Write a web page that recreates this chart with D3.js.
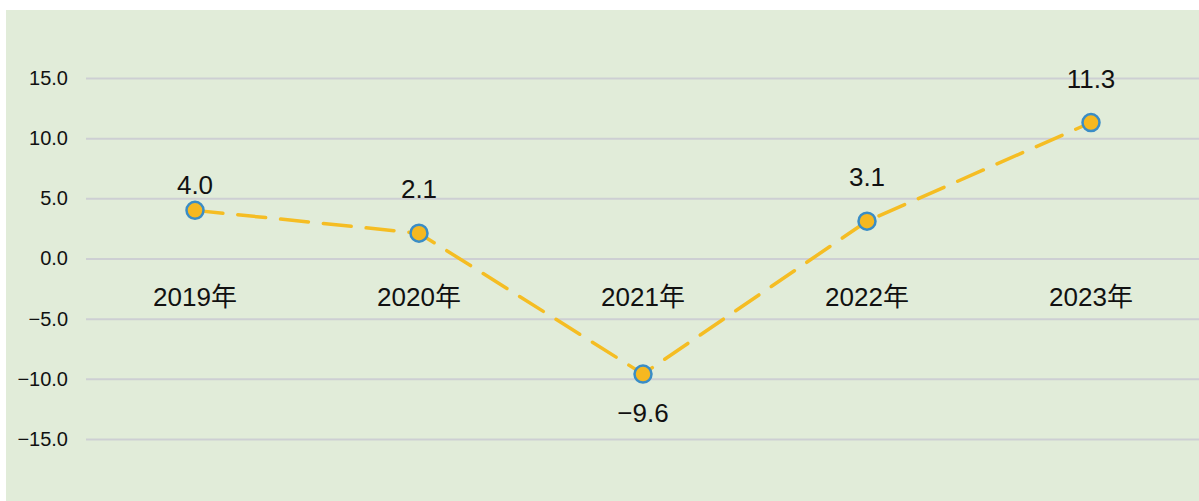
<!DOCTYPE html>
<html><head><meta charset="utf-8">
<script src="https://cdn.jsdelivr.net/npm/d3@7"></script>
<style>
html,body{margin:0;padding:0;background:#fff;}
svg{display:block;}
text{font-family:"Liberation Sans",Arial,"Noto Sans CJK SC",sans-serif;fill:#111;}
</style></head>
<body>
<svg id="c" width="1199" height="501"></svg>
<script>
const categories = ["2019年","2020年","2021年","2022年","2023年"];
const values = [4.0, 2.1, -9.6, 3.1, 11.3];
const valueLabels = ["4.0","2.1","−9.6","3.1","11.3"];
const yTicks = [15, 10, 5, 0, -5, -10, -15];
const yTickLabels = ["15.0","10.0","5.0","0.0","−5.0","−10.0","−15.0"];

const svg = d3.select("#c");
const W = 1199, H = 501;
svg.append("rect").attr("x",6).attr("y",10).attr("width",W-6).attr("height",H-10).attr("fill","#e1ecd9");

const x = d3.scalePoint().domain(categories).range([195, 1091]);
const y = d3.scaleLinear().domain([-15, 15]).range([439, 78]);

// grid
const gAxis = svg.append("g").attr("transform","translate(86,0)")
  .call(d3.axisLeft(y).tickValues(yTicks).tickSize(-(W-86)).tickPadding(18)
    .tickFormat((d,i)=>yTickLabels[i]));
gAxis.select(".domain").remove();
gAxis.selectAll(".tick line").attr("stroke","#cdcfd3").attr("stroke-width",2);
gAxis.selectAll(".tick text").attr("font-size",20).attr("fill","#111")
  .style("font-family",'"Liberation Sans",Arial,sans-serif');

// category labels
svg.append("g").selectAll("text").data(categories).join("text")
  .attr("x", d=>x(d)).attr("y", y(0)+47)
  .attr("text-anchor","middle").attr("font-size",26)
  .text(d=>d);

// line
const line = d3.line().x((d,i)=>x(categories[i])).y(d=>y(d));
svg.append("path").datum(values).attr("d",line)
  .attr("fill","none").attr("stroke","#f5bd23").attr("stroke-width",3.5)
  .attr("stroke-dasharray","28 15").attr("stroke-linecap","round");

// points
svg.append("g").selectAll("circle").data(values).join("circle")
  .attr("cx",(d,i)=>x(categories[i])).attr("cy",d=>y(d)).attr("r",8.5)
  .attr("fill","#f6b820").attr("stroke","#3a8dc6").attr("stroke-width",2.5);

// value labels
svg.append("g").selectAll("text").data(values).join("text")
  .attr("x",(d,i)=>x(categories[i]))
  .attr("y",(d,i)=> d<0 ? y(d)+48 : y(d) - (i===0 ? 16 : 35))
  .attr("text-anchor","middle").attr("font-size",26)
  .text((d,i)=>valueLabels[i]);
</script>
</body></html>
